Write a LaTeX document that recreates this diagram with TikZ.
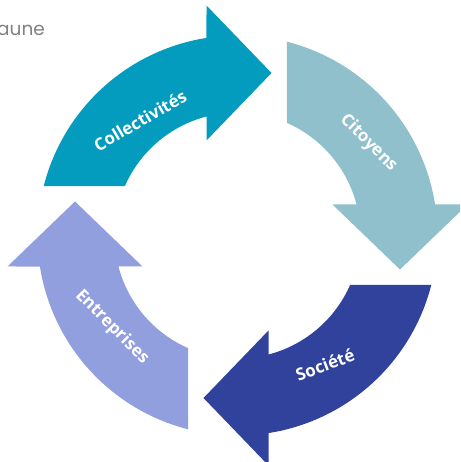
\documentclass[tikz,border=0pt]{standalone}
\usepackage{fontspec}
\setmainfont{Open Sans}
\newfontfamily\greyfont{Poppins}
\definecolor{colcoll}{RGB}{3,156,190}
\definecolor{colcit}{RGB}{143,192,203}
\definecolor{colsoc}{RGB}{48,66,155}
\definecolor{colent}{RGB}{146,159,222}
\definecolor{colgrey}{RGB}{128,128,128}
\tikzset{
  lbl/.style={text=white, font=\fontsize{17}{19}\selectfont\bfseries, inner sep=0pt},
  arrowshape/.pic={
    \fill[pic actions] (165.67:200) arc[start angle=165.67, end angle=98.92, radius=200]
      -- (-31,230) -- (34,162.5) -- (-31,95) -- (104.6:123)
      arc[start angle=104.6, end angle=156.27, radius=123] -- cycle;
  }
}
\begin{document}
\begin{tikzpicture}[x=1pt,y=1pt]
\useasboundingbox (-237.5,-226.5) rectangle (222.5,235.5);
\clip (-237.5,-226.5) rectangle (222.5,235.5);
\pic[fill=colcoll] (coll) at (0,0) {arrowshape};
\pic[fill=colcit, rotate=-90] (cit) at (0,0) {arrowshape};
\pic[fill=colsoc, rotate=-180] (soc) at (0,0) {arrowshape};
\pic[fill=colent, rotate=90] (ent) at (0,0) {arrowshape};
\node[lbl, rotate=30] (tcoll) at (-97.5,115) {Collectivités};
\node[lbl, rotate=-45] (tcit) at (131,92.5) {Citoyens};
\node[lbl, rotate=21] (tsoc) at (87.5,-129.5) {Société};
\node[lbl, rotate=-45] (tent) at (-125.5,-91.5) {Entreprises};
\node[anchor=base west, inner sep=0pt, text=colgrey, font=\greyfont\fontsize{18.5}{22}\selectfont] (aune) at (-240.5,199.5) {aune};
\end{tikzpicture}
\end{document}
